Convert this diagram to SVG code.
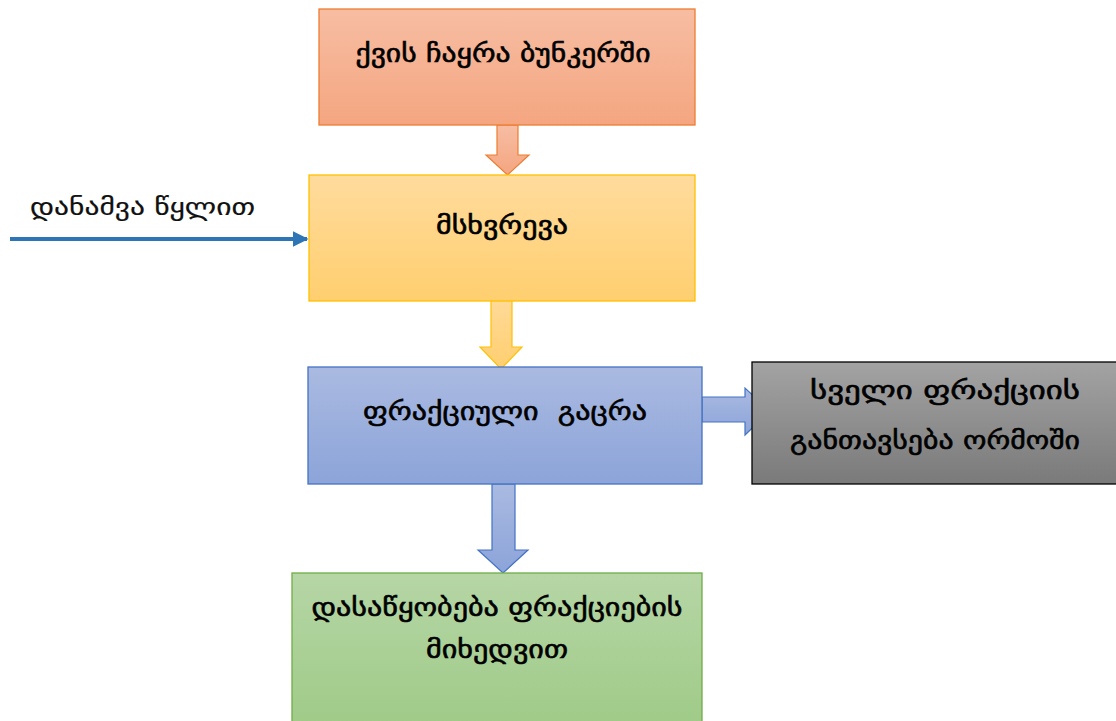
<svg xmlns="http://www.w3.org/2000/svg" width="1116" height="721" viewBox="0 0 1116 721">
<style>
text{font-family:"DejaVu Sans","Noto Sans",sans-serif;font-size:26px;fill:#000;text-anchor:middle;stroke:#000;stroke-width:0.6px}
.lbl{text-anchor:start;font-size:24px;stroke-width:0.2px;fill:#111}
</style>
<defs>
<linearGradient id="gO" x1="0" y1="0" x2="0" y2="1"><stop offset="0" stop-color="#F7BDA3"/><stop offset="1" stop-color="#F4A680"/></linearGradient>
<linearGradient id="gY" x1="0" y1="0" x2="0" y2="1"><stop offset="0" stop-color="#FFDB9D"/><stop offset="1" stop-color="#FFCF6F"/></linearGradient>
<linearGradient id="gB" x1="0" y1="0" x2="0" y2="1"><stop offset="0" stop-color="#AABAE1"/><stop offset="1" stop-color="#8CA4D9"/></linearGradient>
<linearGradient id="gG" x1="0" y1="0" x2="0" y2="1"><stop offset="0" stop-color="#B6D6A6"/><stop offset="1" stop-color="#9ECA86"/></linearGradient>
<linearGradient id="gK" x1="0" y1="0" x2="0" y2="1"><stop offset="0" stop-color="#A3A3A3"/><stop offset="1" stop-color="#7A7A7A"/></linearGradient>
<marker id="ah" viewBox="0 0 10 10" refX="9" refY="5" markerWidth="4" markerHeight="4" orient="auto" markerUnits="strokeWidth"><path d="M0,0 L10,5 L0,10 z" fill="#2E75B6"/></marker>
</defs>
<g id="connectors">
<line x1="10" y1="239" x2="307" y2="239" stroke="#2E75B6" stroke-width="4" marker-end="url(#ah)"/>
<text class="lbl" x="30" y="215" textLength="225" lengthAdjust="spacingAndGlyphs">დანამვა წყლით</text>
<path d="M497,125 H518 V155 H529 L507.5,175 L486,155 H497 Z" fill="url(#gO)" stroke="#ED7D31" stroke-width="1.2"/>
<path d="M491,291 H512 V347 H522 L501,369 L480,347 H491 Z" fill="url(#gY)" stroke="#FFC000" stroke-width="1.2"/>
<path d="M702,397 H745 V388 L770,411 L745,435 V422 H702 Z" fill="url(#gB)" stroke="#4472C4" stroke-width="1.2"/>
<path d="M492,484 H515 V550 H528 L503,573 L478,550 H492 Z" fill="url(#gB)" stroke="#4472C4" stroke-width="1.2"/>
</g>
<g id="n1">
<rect x="319" y="9" width="376" height="116" fill="url(#gO)" stroke="#ED7D31" stroke-width="1.3"/>
<text x="503" y="62" textLength="295" lengthAdjust="spacingAndGlyphs">ქვის ჩაყრა ბუნკერში</text>
</g>
<g id="n2">
<rect x="309" y="175" width="386" height="126" fill="url(#gY)" stroke="#FFC000" stroke-width="1.3"/>
<text x="502" y="234" textLength="132" lengthAdjust="spacingAndGlyphs">მსხვრევა</text>
</g>
<g id="n3">
<rect x="308" y="367" width="394" height="117" fill="url(#gB)" stroke="#4472C4" stroke-width="1.3"/>
<text x="505" y="420" textLength="284" lengthAdjust="spacingAndGlyphs" xml:space="preserve">ფრაქციული  გაცრა</text>
</g>
<g id="n4">
<rect x="752" y="362" width="370" height="122" fill="url(#gK)" stroke="#000" stroke-width="1.3"/>
<text x="945" y="399" textLength="270" lengthAdjust="spacingAndGlyphs">სველი ფრაქციის</text>
<text x="935" y="449" textLength="290" lengthAdjust="spacingAndGlyphs">განთავსება ორმოში</text>
</g>
<g id="n5">
<rect x="292" y="573" width="410" height="160" fill="url(#gG)" stroke="#70AD47" stroke-width="1.3"/>
<text x="497" y="616" textLength="371" lengthAdjust="spacingAndGlyphs">დასაწყობება ფრაქციების</text>
<text x="497" y="658" textLength="142" lengthAdjust="spacingAndGlyphs">მიხედვით</text>
</g>
</svg>
